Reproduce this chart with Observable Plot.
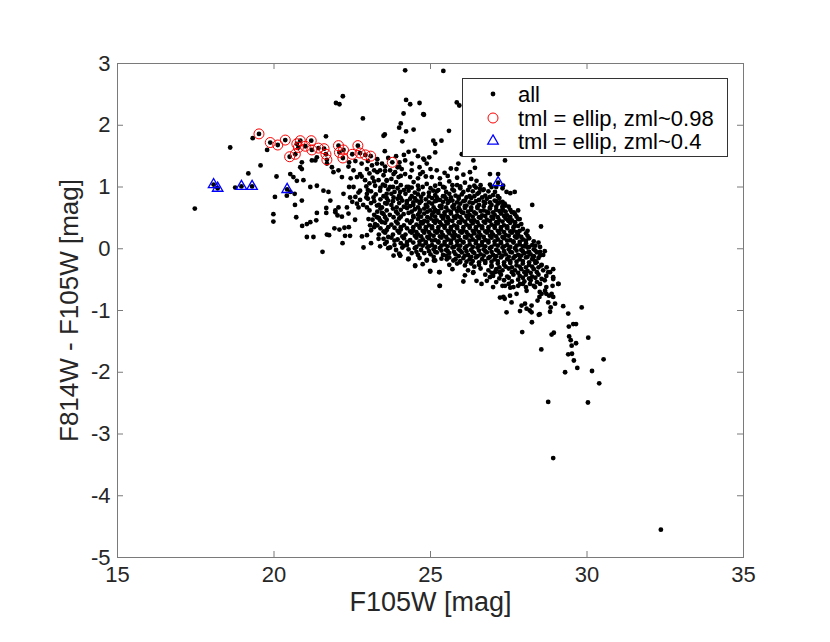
<!DOCTYPE html>
<html>
<head>
<meta charset="utf-8">
<script src="https://cdn.jsdelivr.net/npm/d3@7"></script>
<script src="https://cdn.jsdelivr.net/npm/@observablehq/plot@0.6"></script>
<style>
  html, body { margin: 0; padding: 0; background: #fff; }
  #wrap { position: relative; width: 830px; height: 642px; background: #fff; }
  #legend { position: absolute; left: 462px; top: 78px; }
</style>
</head>
<body>
<div id="wrap"><div id="chart"></div><svg id="legend" width="267" height="80"></svg></div>
<script>
const xTicks = [15, 20, 25, 30, 35];
const yTicks = [-5, -4, -3, -2, -1, 0, 1, 2, 3];
const xLabel = "F105W [mag]";
const yLabel = "F814W - F105W [mag]";
const legendLabels = ["all", "tml = ellip, zml~0.98", "tml = ellip, zml~0.4"];

// sources flagged tml = ellip, zml~0.98
const ellip98 = [[19.52,1.86],[19.88,1.72],[20.12,1.68],[20.36,1.76],[20.50,1.49],[20.68,1.53],[20.73,1.70],[20.84,1.75],[20.78,1.64],[21.00,1.66],[21.19,1.75],[21.21,1.60],[21.42,1.63],[21.60,1.62],[21.66,1.53],[21.69,1.44],[22.06,1.67],[22.09,1.56],[22.22,1.60],[22.20,1.47],[22.50,1.53],[22.68,1.67],[22.75,1.55],[22.92,1.52],[23.09,1.50],[23.78,1.40]];

// sources flagged tml = ellip, zml~0.4
const ellip04 = [[18.07,1.04],[18.20,0.98],[18.96,1.01],[19.30,1.01],[20.42,0.96],[27.16,1.07]];

// sparse sources outside the main cloud [F105W, F814W-F105W]
const sparsePts = [
[17.47,0.65],[18.60,1.64],[19.32,1.79],[19.57,1.35],[19.18,1.22],[18.76,0.99],[20.08,1.17],[20.03,0.84],[19.98,0.56],[19.98,0.44],[19.78,1.60],[20.71,0.51],[20.67,0.71],[20.90,0.37],[21.05,0.19],[21.26,0.19],[21.55,-0.05],[21.66,1.82],[22.20,2.47],[21.98,2.36],[22.09,2.34],[22.84,2.11],[23.54,1.85],[24.00,1.96],[23.54,1.58],[21.05,0.40],[21.16,0.43],[21.35,0.46],[21.37,0.58],[21.67,0.66],[20.52,1.21],[20.62,1.16],[20.94,1.11],[21.16,1.00],[20.66,0.89],[20.84,1.32],[20.89,1.40],[21.32,1.43],
[24.14,2.19],[24.79,2.17],[24.22,1.90],[24.46,1.93],[24.10,1.74],[24.30,1.57],[24.49,1.59],[25.15,1.56],[24.80,1.44],[24.96,1.48],[24.19,2.89],[25.41,2.88],[24.22,2.41],[24.35,2.34],[24.65,2.36],[24.77,2.18],[24.05,2.03],[23.50,1.83],[24.01,1.40],[24.19,1.43],[24.77,1.46],[25.09,1.75],[25.15,1.70],[25.59,1.91],[25.84,2.37],[25.92,2.32],[26.00,1.53],[26.37,1.43],[26.42,1.31],[27.38,1.43],[23.71,1.27],[23.82,1.21],[23.60,1.10],
[27.43,-1.03],[27.93,-1.35],[28.24,-1.19],[28.46,-1.07],[28.54,-1.63],[28.76,-2.48],[28.87,-1.39],[28.94,-1.36],[28.92,-3.39],[28.82,-1.02],[28.84,-0.95],[28.98,-0.89],[29.24,-0.93],[29.40,-1.05],[29.42,-1.26],[29.56,-1.22],[29.65,-1.22],[29.43,-1.42],[29.48,-1.48],[29.51,-1.57],[29.65,-1.53],[29.40,-1.71],[29.52,-1.70],[29.58,-1.81],[29.69,-1.93],[29.30,-2.00],[29.83,-0.95],[30.04,-1.44],[30.16,-1.98],[30.39,-2.18],[30.53,-1.79],[30.03,-2.49],[32.36,-4.55]
];

// main cloud of sources [F105W, F814W-F105W]
const cloudPts = [
[20.89,1.29],[21.21,1.43],[21.37,1.48],[21.69,1.38],[21.85,1.32],[21.90,1.24],[22.06,1.27],[22.17,1.16],[22.38,1.33],[22.54,1.27],[22.65,1.16],[22.75,1.21],[22.91,1.11],[22.97,1.29],[23.13,1.35],[23.29,1.38],[23.39,1.27],[23.50,1.19],[23.34,1.11],[23.23,1.02],[23.60,1.11],[23.71,1.00],[23.87,1.24],[23.98,1.16],[24.08,1.29],[24.19,1.21],[24.35,1.16],[24.46,1.08],[24.24,1.00],[24.03,0.92],[23.82,0.83],[23.60,0.89],[23.39,0.94],[23.18,0.83],[22.97,0.89],[22.75,0.94],[22.54,1.00],[22.43,0.83],[22.22,0.89],[22.06,0.67],[21.96,0.62],[22.33,0.67],[22.65,0.73],[22.97,0.67],[23.29,0.70],[23.60,0.73],[23.92,0.67],[24.24,0.73],[24.56,0.78],[24.77,0.89],[24.88,1.05],[25.04,1.16],[25.20,1.27],[24.67,1.21],[24.88,1.38],[25.09,0.94],[25.20,0.78],[24.99,0.62],[24.67,0.62],[24.46,0.51],[24.14,0.56],[23.82,0.51],[23.50,0.56],[21.58,0.94],[21.74,0.92],[21.80,0.78],[21.37,1.02],[20.73,1.10],[20.52,0.92],[20.89,0.78],[20.41,0.86],
[23.30,1.45],[23.45,1.38],[23.65,1.47],[23.90,1.50],[24.15,1.52],[24.60,1.50],[24.40,1.38],[24.65,1.32],[23.95,1.32],[23.55,1.33],[23.20,1.27],[22.80,1.38],[22.60,1.42],[22.40,1.40],[23.00,1.42],
[26.90,1.21],[27.16,1.21],[27.32,1.02],[27.43,0.92],[27.69,0.92],[26.68,0.95],[26.95,1.00],[27.06,0.92],[27.21,0.75],[27.37,0.73],[27.32,0.62],[27.66,0.59],[27.80,0.48],[27.69,0.37],[27.48,0.46],[27.85,0.29],[27.75,0.19],[25.89,1.38],[25.83,1.29],[26.26,1.24],[26.47,1.10],[26.58,0.97],[25.35,1.75],[28.25,0.71],[28.53,0.36],
[21.69,0.23],[21.76,0.22],[21.93,0.33],[22.09,0.31],[22.25,0.34],[22.39,0.35],[22.27,0.21],[22.43,0.21],[22.19,0.09],[22.59,0.47],[22.81,0.20],[22.97,0.22],[22.86,0.02],[21.67,0.58],[22.03,0.54],[22.17,0.52],[22.38,0.57],[21.96,0.59],[23.07,0.38],[23.23,0.40],[23.39,0.46],[23.29,0.51],[23.02,0.48],[23.34,0.16],[23.39,0.04],[23.60,0.11],[23.71,0.02],[23.82,-0.11],[24.03,-0.11],[24.30,-0.16],[24.51,-0.27],[24.88,-0.19],[25.11,-0.19],[24.99,-0.36],[25.29,-0.38],[25.29,-0.60],
[23.05,1.06],[23.48,1.04],[23.90,1.08],[24.60,1.02],[25.30,1.05],[25.60,1.09],[25.85,1.03],[26.10,1.07],[26.40,1.02],[26.90,1.04],[23.20,1.09],
[23.30,1.24],[23.55,1.26],[24.40,1.27],[24.75,1.24],[25.00,1.29],[25.45,1.23],[25.65,1.30],[24.00,1.33],[23.05,1.22],
[22.45,1.14],[22.80,1.17],[23.15,1.15],[23.75,1.13],[24.05,1.18],[24.60,1.14],[24.85,1.17],[25.30,1.14],[25.55,1.18],[25.85,1.15],[26.05,1.20],[26.30,1.13],
[22.40,1.00],[22.95,1.01],[23.55,1.02],[23.80,1.00],[24.05,1.03],[24.30,1.00],[24.75,1.00],[25.15,1.02],[25.40,1.00],[25.70,1.03],[25.95,1.01],[26.25,1.00],[26.60,1.03],[27.10,1.00],
[23.00,0.95],[23.40,0.99],[23.65,0.96],[23.95,0.98],[24.15,0.95],[24.40,0.99],[24.62,0.96],[25.00,0.98],[25.25,0.95],[25.45,0.99],[25.70,0.96],[25.95,0.98],[26.20,0.95],[26.45,0.99],[26.70,0.96],[27.30,0.98],
[22.70,0.91],[23.10,0.93],[23.85,0.92],[24.30,0.94],[24.50,0.91],[24.95,0.91],[25.20,0.93],[25.50,0.92],[25.75,0.94],[26.05,0.92],[26.35,0.93],[26.55,0.91],[26.85,0.93],
[23.25,0.88],[23.50,0.85],[23.75,0.89],[24.00,0.86],[24.20,0.89],[24.40,0.85],[24.60,0.88],[25.15,0.87],[25.40,0.85],[25.60,0.89],[25.80,0.86],[26.00,0.88],[26.25,0.85],[26.50,0.89],[26.75,0.86],[27.00,0.87],[27.55,0.90],
[22.60,0.84],[22.95,0.83],[23.60,0.82],[24.05,0.82],[24.50,0.82],[24.70,0.84],[24.95,0.85],[25.20,0.83],[25.45,0.85],[25.65,0.83],[25.90,0.84],[26.15,0.83],[26.40,0.85],[26.65,0.83],[26.90,0.84],[27.15,0.85],
[22.75,0.79],[23.00,0.81],[23.40,0.80],[23.65,0.78],[23.95,0.81],[24.10,0.78],[24.35,0.81],[24.85,0.80],[25.05,0.82],[25.30,0.79],[25.50,0.81],[25.70,0.78],[25.90,0.81],[26.10,0.78],[26.30,0.82],[26.55,0.79],[26.80,0.81],[27.05,0.78],[27.20,0.82],
[22.50,0.76],[23.20,0.77],[23.80,0.77],[24.25,0.77],[24.45,0.75],[24.70,0.77],[24.95,0.75],[25.15,0.77],[25.40,0.76],[25.60,0.77],[25.85,0.75],[26.05,0.77],[26.25,0.75],[26.45,0.77],[26.70,0.76],[26.90,0.75],[27.10,0.77],[27.30,0.76],
[22.85,0.71],[23.10,0.74],[23.35,0.71],[23.55,0.74],[23.75,0.71],[24.00,0.74],[24.45,0.71],[24.65,0.74],[24.85,0.71],[25.05,0.73],[25.35,0.70],[25.55,0.74],[25.75,0.71],[25.95,0.73],[26.15,0.70],[26.35,0.74],[26.55,0.71],[26.75,0.74],[26.95,0.71],[27.15,0.73],[27.40,0.70],
[22.70,0.67],[23.45,0.67],[24.15,0.68],[24.35,0.69],[24.60,0.67],[24.90,0.68],[25.10,0.67],[25.30,0.69],[25.50,0.67],[25.70,0.68],[25.90,0.67],[26.10,0.69],[26.30,0.67],[26.50,0.68],[26.70,0.69],[26.90,0.67],[27.10,0.68],[27.30,0.69],[27.50,0.68],
[23.05,0.62],[23.40,0.65],[23.60,0.62],[23.80,0.65],[24.05,0.63],[24.25,0.66],[24.50,0.64],[24.80,0.65],[25.15,0.63],[25.35,0.66],[25.55,0.62],[25.75,0.65],[25.95,0.62],[26.10,0.66],[26.30,0.63],[26.50,0.66],[26.70,0.62],[26.90,0.65],[27.10,0.63],[27.30,0.66],[27.55,0.63],[27.80,0.62],
[23.30,0.60],[23.90,0.60],[24.40,0.60],[24.65,0.59],[24.90,0.60],[25.10,0.59],[25.25,0.61],[25.45,0.59],[25.65,0.60],[25.85,0.61],[26.00,0.59],[26.20,0.60],[26.40,0.59],[26.60,0.61],[26.80,0.60],[27.00,0.59],[27.20,0.61],[27.40,0.60],[27.60,0.59],
[23.20,0.55],[23.45,0.58],[23.70,0.55],[23.95,0.57],[24.30,0.58],[24.60,0.55],[24.80,0.57],[25.05,0.55],[25.25,0.58],[25.45,0.55],[25.65,0.57],[25.85,0.54],[26.05,0.58],[26.25,0.55],[26.45,0.57],[26.65,0.54],[26.85,0.58],[27.05,0.55],[27.25,0.57],[27.45,0.54],[27.70,0.56],
[23.55,0.51],[24.05,0.52],[24.45,0.53],[24.70,0.52],[24.90,0.51],[25.15,0.52],[25.35,0.53],[25.55,0.51],[25.75,0.52],[25.95,0.51],[26.15,0.53],[26.35,0.52],[26.55,0.51],[26.75,0.53],[26.95,0.52],[27.15,0.51],[27.35,0.53],[27.55,0.51],[27.75,0.52],
[23.15,0.47],[23.35,0.50],[23.60,0.47],[24.00,0.49],[24.25,0.46],[24.60,0.48],[24.80,0.45],[25.00,0.49],[25.20,0.46],[25.40,0.49],[25.60,0.46],[25.80,0.50],[26.00,0.47],[26.20,0.49],[26.40,0.46],[26.60,0.50],[26.80,0.47],[27.00,0.49],[27.20,0.46],[27.40,0.49],[27.60,0.46],[27.85,0.48],
[23.45,0.43],[23.90,0.44],[24.40,0.45],[24.70,0.43],[24.90,0.44],[25.10,0.45],[25.30,0.43],[25.50,0.44],[25.70,0.45],[25.90,0.43],[26.10,0.44],[26.30,0.45],[26.50,0.43],[26.70,0.44],[26.90,0.45],[27.10,0.43],[27.30,0.44],[27.50,0.45],[27.70,0.43],
[23.30,0.38],[23.55,0.42],[23.75,0.39],[23.95,0.41],[24.15,0.38],[24.35,0.42],[24.55,0.39],[24.75,0.41],[24.95,0.38],[25.15,0.42],[25.35,0.39],[25.55,0.41],[25.75,0.38],[25.95,0.42],[26.15,0.39],[26.35,0.41],[26.55,0.38],[26.75,0.42],[26.95,0.39],[27.15,0.41],[27.35,0.38],[27.55,0.42],[27.90,0.40],
[23.20,0.35],[23.65,0.35],[24.05,0.35],[24.45,0.35],[24.65,0.37],[24.85,0.35],[25.05,0.36],[25.25,0.35],[25.45,0.37],[25.65,0.35],[25.85,0.36],[26.05,0.35],[26.25,0.37],[26.45,0.35],[26.65,0.36],[26.85,0.35],[27.05,0.37],[27.25,0.35],[27.45,0.36],[27.65,0.35],[27.80,0.37],
[23.10,0.30],[23.40,0.33],[23.60,0.30],[23.85,0.34],[24.05,0.31],[24.25,0.33],[24.45,0.30],[24.65,0.34],[24.85,0.31],[25.05,0.33],[25.25,0.30],[25.45,0.34],[25.65,0.31],[25.85,0.33],[26.05,0.30],[26.25,0.34],[26.45,0.31],[26.65,0.33],[26.85,0.30],[27.05,0.34],[27.25,0.31],[27.45,0.33],[27.65,0.30],[27.95,0.32],
[23.50,0.28],[23.95,0.29],[24.35,0.28],[24.55,0.27],[24.75,0.29],[24.95,0.27],[25.15,0.28],[25.35,0.27],[25.55,0.29],[25.75,0.27],[25.95,0.28],[26.15,0.27],[26.35,0.29],[26.55,0.27],[26.75,0.28],[26.95,0.27],[27.15,0.29],[27.35,0.27],[27.55,0.28],[27.75,0.27],[28.10,0.29],
[23.35,0.23],[23.55,0.26],[23.80,0.23],[24.00,0.26],[24.20,0.23],[24.40,0.26],[24.60,0.23],[24.80,0.26],[25.00,0.23],[25.20,0.26],[25.40,0.22],[25.60,0.25],[25.80,0.22],[26.00,0.26],[26.20,0.23],[26.40,0.25],[26.60,0.22],[26.80,0.26],[27.00,0.23],[27.20,0.25],[27.40,0.22],[27.60,0.26],[27.80,0.23],[28.05,0.25],
[23.65,0.19],[24.10,0.20],[24.50,0.21],[24.70,0.20],[24.90,0.19],[25.10,0.21],[25.30,0.20],[25.50,0.19],[25.70,0.21],[25.90,0.20],[26.10,0.19],[26.30,0.21],[26.50,0.20],[26.70,0.19],[26.90,0.21],[27.10,0.20],[27.30,0.19],[27.50,0.21],[27.70,0.20],[27.90,0.19],[28.10,0.21],
[23.50,0.16],[23.75,0.18],[23.95,0.15],[24.15,0.17],[24.35,0.14],[24.55,0.18],[24.75,0.15],[24.95,0.17],[25.15,0.14],[25.35,0.18],[25.55,0.15],[25.75,0.17],[25.95,0.14],[26.15,0.18],[26.35,0.15],[26.55,0.17],[26.75,0.14],[26.95,0.18],[27.15,0.15],[27.35,0.17],[27.55,0.14],[27.75,0.18],[27.95,0.15],[28.15,0.17],
[23.85,0.13],[24.25,0.11],[24.65,0.12],[24.85,0.11],[25.05,0.13],[25.25,0.12],[25.45,0.11],[25.65,0.13],[25.85,0.12],[26.05,0.11],[26.25,0.13],[26.45,0.12],[26.65,0.11],[26.85,0.13],[27.05,0.12],[27.25,0.11],[27.45,0.13],[27.65,0.12],[27.85,0.11],[28.05,0.13],[28.30,0.12],
[23.10,0.09],[23.55,0.08],[23.85,0.06],[24.05,0.09],[24.25,0.06],[24.45,0.10],[24.65,0.07],[24.85,0.09],[25.05,0.06],[25.25,0.10],[25.45,0.07],[25.65,0.09],[25.85,0.06],[26.05,0.10],[26.25,0.07],[26.45,0.09],[26.65,0.06],[26.85,0.10],[27.05,0.07],[27.25,0.09],[27.45,0.06],[27.65,0.10],[27.85,0.07],[28.05,0.09],[28.25,0.06],[28.45,0.10],
[24.15,0.05],[24.55,0.03],[24.75,0.05],[24.95,0.04],[25.15,0.03],[25.35,0.05],[25.55,0.04],[25.75,0.03],[25.95,0.05],[26.15,0.04],[26.35,0.03],[26.55,0.05],[26.75,0.04],[26.95,0.03],[27.15,0.05],[27.35,0.04],[27.55,0.03],[27.75,0.05],[27.95,0.04],[28.15,0.03],[28.35,0.05],
[23.65,0.01],[23.90,-0.02],[24.10,0.02],[24.30,-0.01],[24.50,0.01],[24.70,-0.02],[24.90,0.02],[25.10,-0.01],[25.30,0.01],[25.50,-0.02],[25.70,0.02],[25.90,-0.01],[26.10,0.01],[26.30,-0.02],[26.50,0.02],[26.70,-0.01],[26.90,0.01],[27.10,-0.02],[27.30,0.02],[27.50,-0.01],[27.70,0.01],[27.90,-0.02],[28.10,0.02],[28.30,-0.01],[28.50,0.03],[28.65,-0.04],
[24.55,-0.05],[24.95,-0.04],[25.15,-0.05],[25.35,-0.03],[25.55,-0.04],[25.75,-0.05],[25.95,-0.03],[26.15,-0.04],[26.35,-0.05],[26.55,-0.03],[26.75,-0.04],[26.95,-0.05],[27.15,-0.03],[27.35,-0.04],[27.55,-0.05],[27.75,-0.03],[27.95,-0.04],[28.15,-0.05],[28.35,-0.03],[28.50,-0.05],
[24.00,-0.08],[24.40,-0.07],[24.60,-0.10],[24.80,-0.07],[25.00,-0.09],[25.20,-0.06],[25.40,-0.10],[25.60,-0.07],[25.80,-0.09],[26.00,-0.06],[26.20,-0.10],[26.40,-0.07],[26.60,-0.09],[26.80,-0.06],[27.00,-0.10],[27.20,-0.07],[27.40,-0.09],[27.60,-0.06],[27.80,-0.10],[28.00,-0.07],[28.20,-0.09],[28.40,-0.06],[28.60,-0.10],
[25.10,-0.13],[25.50,-0.11],[25.90,-0.12],[26.10,-0.11],[26.30,-0.13],[26.50,-0.12],[26.70,-0.11],[26.90,-0.13],[27.10,-0.12],[27.30,-0.11],[27.50,-0.13],[27.70,-0.12],[27.90,-0.11],[28.10,-0.13],[28.30,-0.12],[28.50,-0.11],
[24.65,-0.15],[25.35,-0.16],[25.60,-0.14],[25.80,-0.17],[26.05,-0.15],[26.25,-0.17],[26.45,-0.14],[26.65,-0.17],[26.85,-0.15],[27.05,-0.17],[27.25,-0.14],[27.45,-0.17],[27.65,-0.15],[27.85,-0.17],[28.05,-0.14],[28.25,-0.17],[28.45,-0.15],
[25.95,-0.20],[26.15,-0.21],[26.35,-0.20],[26.55,-0.22],[26.75,-0.20],[26.95,-0.21],[27.15,-0.20],[27.35,-0.22],[27.55,-0.20],[27.75,-0.21],[27.95,-0.20],[28.15,-0.22],[28.35,-0.20],
[24.75,-0.25],[25.60,-0.26],[25.85,-0.24],[26.10,-0.27],[26.30,-0.24],[26.55,-0.26],[26.75,-0.23],[26.95,-0.27],[27.15,-0.24],[27.35,-0.26],[27.55,-0.23],[27.75,-0.27],[27.95,-0.24],[28.15,-0.26],[28.35,-0.23],[28.55,-0.26],
[26.40,-0.29],[26.95,-0.29],[27.20,-0.30],[27.40,-0.29],[27.60,-0.30],[27.85,-0.29],[28.05,-0.30],[28.25,-0.29],[28.45,-0.30],
[25.70,-0.33],[26.20,-0.35],[26.60,-0.32],[26.85,-0.35],[27.10,-0.33],[27.30,-0.35],[27.50,-0.32],[27.70,-0.35],[27.90,-0.33],[28.10,-0.36],[28.30,-0.33],[28.60,-0.35],
[26.95,-0.39],[27.20,-0.38],[27.60,-0.38],[27.80,-0.39],[28.00,-0.38],[28.20,-0.39],[28.40,-0.38],
[26.10,-0.43],[26.75,-0.42],[27.00,-0.44],[27.25,-0.42],[27.45,-0.45],[27.65,-0.42],[27.85,-0.44],[28.05,-0.42],[28.25,-0.45],[28.45,-0.42],[28.70,-0.44],
[27.20,-0.48],[27.50,-0.47],[27.95,-0.47],[28.15,-0.48],[28.35,-0.47],[28.55,-0.49],
[26.80,-0.52],[27.10,-0.54],[27.35,-0.51],[27.60,-0.53],[27.80,-0.50],[28.00,-0.53],[28.20,-0.51],[28.40,-0.54],[28.65,-0.51],
[27.50,-0.57],[27.95,-0.57],[28.50,-0.57],
[27.00,-0.62],[27.30,-0.60],[27.55,-0.63],[27.80,-0.60],[28.05,-0.62],[28.30,-0.60],[28.70,-0.62],
[24.88,-0.18],[25.15,-0.19],[25.52,-0.17],[25.73,-0.19],[25.94,-0.22],[26.37,-0.38],[26.90,-0.46],[27.06,-0.38],
[29.09,-0.57],[28.92,-0.49],[28.90,-0.60],[28.82,-0.38],[28.92,-0.33],[28.71,-0.30],[28.79,-0.76],[28.87,-0.73],[28.66,-0.68],[28.55,-0.73],[28.42,-0.84],[28.48,-0.78],[28.23,-1.03],[28.23,-0.92],[28.07,-0.97],[27.86,-1.01],[28.02,-0.89],[27.91,-0.92],[27.33,-0.78],[27.54,-0.76],[27.75,-0.73],[27.38,-0.60],[27.65,-0.62],[27.86,-0.57],[28.18,-0.57],[28.34,-0.62],[28.07,-0.68],
[24.51,-0.28],[24.99,-0.37],[25.28,-0.38],[25.30,-0.60],[26.05,-0.53],[24.03,-0.11],[24.29,-0.17],[26.47,-0.52],[26.63,-0.57],[27.22,-0.79],[26.36,-0.39],[27.37,-0.81],[27.59,-0.87],[28.17,-1.00],[28.49,-1.06],[28.76,-0.87],[28.49,-0.70],[28.70,-0.73],[28.92,-0.78],[29.08,-0.57],[28.92,-0.46],[28.76,-0.38],[28.54,-0.27],[28.39,-0.22],[28.28,-0.14],[28.12,-0.06],[28.01,0.04]
];

// "all" includes every source, the flagged ones too
const dots = sparsePts.concat(cloudPts, ellip98, ellip04);
const FONT = "'Liberation Sans', Arial, Helvetica, sans-serif";
const AX = "#7a7a7a";
const TXT = "#262626";

const chart = Plot.plot({
  width: 830,
  height: 642,
  marginLeft: 117,
  marginRight: 87,
  marginTop: 63,
  marginBottom: 85,
  style: { fontFamily: FONT, background: "#fff", color: TXT, overflow: "visible" },
  x: { domain: [15, 35] },
  y: { domain: [-5, 3] },
  marks: [
    Plot.dot(dots, { x: d => d[0], y: d => d[1], r: 2.4, fill: "#000", stroke: null }),
    Plot.dot(ellip98, { x: d => d[0], y: d => d[1], r: 5, stroke: "#ff0000", strokeWidth: 1, fill: "none" }),
    Plot.dot(ellip04, { x: d => d[0], y: d => d[1], r: 3.9, symbol: "triangle", stroke: "#0000ff", strokeWidth: 1.3, fill: "none" }),
    Plot.ruleX(xTicks, { insetTop: 488, stroke: AX }),
    Plot.ruleX(xTicks, { insetBottom: 488, stroke: AX }),
    Plot.ruleY(yTicks, { insetRight: 620, stroke: AX }),
    Plot.ruleY(yTicks, { insetLeft: 620, stroke: AX }),
    Plot.frame({ stroke: AX }),
    Plot.axisX({ ticks: xTicks, tickSize: 0, tickPadding: 9, fontSize: 22, label: null, tickFormat: d => String(d), fill: TXT }),
    Plot.axisY({ ticks: yTicks, tickSize: 0, tickPadding: 7, fontSize: 22, label: null, tickFormat: d => String(d), fill: TXT }),
    Plot.text([xLabel], { text: d => d, frameAnchor: "bottom", textAnchor: "middle", lineAnchor: "middle", dy: 45, fontSize: 27, fill: TXT }),
    Plot.text([yLabel], { text: d => d, frameAnchor: "left", textAnchor: "middle", lineAnchor: "middle", dx: -48, rotate: -90, fontSize: 26, fill: TXT })
  ]
});
document.getElementById("chart").appendChild(chart);

// legend (MATLAB-style box, top right inside the axes)
const lg = d3.select("#legend");
lg.append("rect").attr("x", 0.5).attr("y", 0.5).attr("width", 265).attr("height", 78)
  .attr("fill", "#fff").attr("stroke", "#333").attr("stroke-width", 1);
const rowsY = [16, 40, 63];
lg.append("circle").attr("cx", 31).attr("cy", rowsY[0]).attr("r", 2.4).attr("fill", "#000");
lg.append("circle").attr("cx", 31).attr("cy", rowsY[1]).attr("r", 5).attr("fill", "none").attr("stroke", "#ff0000").attr("stroke-width", 1);
lg.append("path").attr("transform", `translate(31,${rowsY[2]})`)
  .attr("d", d3.symbol(d3.symbolTriangle, Math.PI * 3.9 * 3.9)())
  .attr("fill", "none").attr("stroke", "#0000ff").attr("stroke-width", 1.3);
lg.selectAll("text.lab").data(legendLabels).join("text")
  .attr("class", "lab")
  .attr("x", 56).attr("y", (d, i) => rowsY[i])
  .attr("dy", "0.35em")
  .attr("font-family", FONT).attr("font-size", 22).attr("fill", "#000")
  .text(d => d);
</script>
</body>
</html>
